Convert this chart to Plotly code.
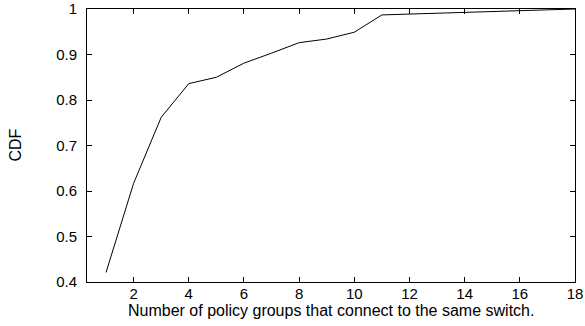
import plotly.graph_objects as go

x_groups = [1, 2, 3, 4, 5, 6, 7, 8, 9, 10, 11, 12, 13, 14, 15, 16, 17, 18]
cdf_values = [0.421, 0.617, 0.762, 0.836, 0.850, 0.881, 0.903, 0.926, 0.934, 0.949,
              0.987, 0.989, 0.991, 0.993, 0.995, 0.997, 0.998, 1.0]
x_tick_vals = [2, 4, 6, 8, 10, 12, 14, 16, 18]
y_tick_vals = [0.4, 0.5, 0.6, 0.7, 0.8, 0.9, 1.0]
y_tick_text = ["0.4", "0.5", "0.6", "0.7", "0.8", "0.9", "1"]
x_title = "Number of policy groups that connect to the same switch."
y_title = "CDF"

fig = go.Figure()
fig.add_trace(go.Scatter(x=x_groups, y=cdf_values, mode="lines",
                         line=dict(color="black", width=1), showlegend=False,
                         hoverinfo="skip"))

fam = "Liberation Sans, Arial, sans-serif"
tick_font = dict(family=fam, size=15, color="black")
title_font = dict(family=fam, size=16, color="black")
fig.update_layout(
    width=585, height=326,
    margin=dict(l=87, r=10, t=9, b=44, autoexpand=False),
    paper_bgcolor="white", plot_bgcolor="white",
    font=tick_font,
    xaxis=dict(range=[0.31, 18], tickvals=x_tick_vals, ticks="inside", ticklen=5,
               tickcolor="black", showline=True, linecolor="black", linewidth=1,
               mirror="allticks", showgrid=False, zeroline=False,
               tickfont=tick_font, automargin=False, ticklabelstandoff=-2),
    yaxis=dict(range=[0.4, 1.0], tickvals=y_tick_vals, ticktext=y_tick_text,
               ticks="inside", ticklen=5, tickcolor="black", showline=True,
               linecolor="black", linewidth=1, mirror="allticks", showgrid=False,
               zeroline=False, tickfont=tick_font, automargin=False,
               ticklabelstandoff=6),
    annotations=[
        dict(text=x_title, xref="paper", yref="paper", x=0.5, y=0, yshift=-28,
             xanchor="center", yanchor="middle", showarrow=False, font=title_font),
        dict(text=y_title, xref="paper", yref="paper", x=0, y=0.5, xshift=-72,
             xanchor="center", yanchor="middle", textangle=-90, showarrow=False,
             font=title_font),
    ],
)
# remove the browser's default 8px body margin so the figure fills the window
fig.write_html("out.html", config={"displayModeBar": False},
               post_script="document.body.style.margin='0';")
